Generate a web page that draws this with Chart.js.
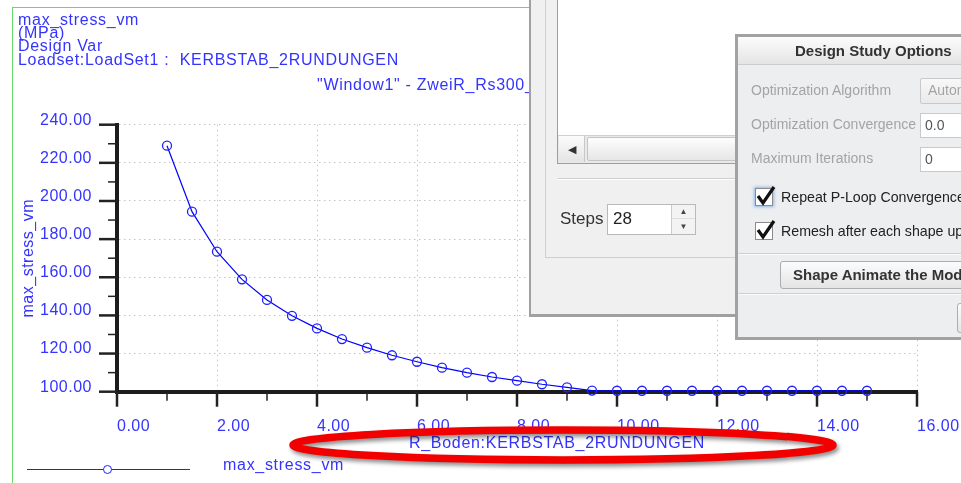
<!DOCTYPE html>
<html>
<head>
<meta charset="utf-8">
<title>max_stress_vm</title>
<script src="https://cdn.jsdelivr.net/npm/chart.js@4.4.1/dist/chart.umd.min.js"></script>
<style>
  body { margin: 0; width: 961px; height: 483px; overflow: hidden; background: #fff; position: relative;
         font-family: "Liberation Sans", Arial, sans-serif; }
  .abs { position: absolute; white-space: nowrap; box-sizing: border-box; }
  .blue { color: #3434ff; font-size: 16px; line-height: 18px; letter-spacing: 0.7px; }
  .frame { left: 12px; top: 7px; width: 540px; height: 500px; border-left: 1.5px solid #6ad86a; border-top: 1.5px solid #6ad86a; }
  .grad { background: linear-gradient(#fcfcfc, #e4e4e4); }
  .lbl { font-size: 14px; line-height: 16px; color: #a4a4a4; }
  .txt { font-size: 14.2px; line-height: 18px; color: #222; }
  .field { background: #fff; border: 1px solid #c9c9c9; }
  .cb { width: 18px; height: 18px; background: #fff; border: 1px solid #8a8a8a; }
</style>
</head>
<body>
<canvas id="stressChart" width="961" height="483" style="position:absolute;left:0;top:0"></canvas>

<div class="abs frame"></div>
<div class="abs blue" style="left:18px;top:11px">max_stress_vm</div>
<div class="abs blue" style="left:18px;top:24px">(MPa)</div>
<div class="abs blue" style="left:18px;top:37px">Design Var</div>
<div class="abs blue" style="left:18px;top:51px">Loadset:LoadSet1 :&nbsp; KERBSTAB_2RUNDUNGEN</div>
<div class="abs blue" style="left:317px;top:76px">"Window1" - ZweiR_Rs300_Optimierung</div>
<div class="abs blue" style="left:409px;top:434px">R_Boden:KERBSTAB_2RUNDUNGEN</div>

<!-- legend -->
<div class="abs" style="left:27px;top:469px;width:163px;height:0;border-top:1px solid #2020ff"></div>
<div class="abs" style="left:103px;top:465px;width:9px;height:9px;border:1.3px solid #2020ff;border-radius:50%;background:#fff"></div>
<div class="abs blue" style="left:223px;top:456px">max_stress_vm</div>

<!-- window behind -->
<div class="abs" style="left:529px;top:-10px;width:480px;height:327px;background:#f0f0f0;border:2px solid #a0a0a0;border-bottom-width:3px"></div>
<div class="abs" style="left:545px;top:-10px;width:470px;height:268px;border:1px solid #cfcfcf"></div>
<div class="abs" style="left:557px;top:-10px;width:460px;height:174px;background:#fff;border:1px solid #9d9d9d"></div>
<div class="abs" style="left:558px;top:135px;width:450px;height:28px;background:#e9e9e9;border-top:1px solid #d0d0d0"></div>
<div class="abs grad" style="left:559px;top:136px;width:26px;height:26px;border-right:1px solid #c8c8c8;font-size:11px;line-height:26px;text-align:center;color:#333">&#9664;</div>
<div class="abs" style="left:587px;top:137px;width:400px;height:24px;border:1px solid #c4c4c4;border-radius:2px;background:linear-gradient(#fdfdfd,#e6e6e6)"></div>
<div class="abs" style="left:558px;top:178px;width:450px;height:2px;border-top:1px solid #cdcdcd;border-bottom:1px solid #fff"></div>
<div class="abs" style="left:560px;top:210px;font-size:17px;line-height:18px;color:#333">Steps</div>
<div class="abs field" style="left:607px;top:204px;width:89px;height:31px;border-color:#b9b9b9"></div>
<div class="abs" style="left:613px;top:210px;font-size:17px;line-height:18px;color:#222">28</div>
<div class="abs" style="left:671px;top:205px;width:24px;height:14px;background:#f3f3f3;border-left:1px solid #ccc;border-bottom:1px solid #ddd;font-size:8px;line-height:14px;text-align:center;color:#444">&#9650;</div>
<div class="abs" style="left:671px;top:219px;width:24px;height:15px;background:#f3f3f3;border-left:1px solid #ccc;font-size:8px;line-height:15px;text-align:center;color:#444">&#9660;</div>

<!-- Design Study Options dialog -->
<div class="abs" style="left:735px;top:34px;width:270px;height:306px;background:#edeef0;border:3px solid #a2a2a2"></div>
<div class="abs grad" style="left:738px;top:37px;width:260px;height:28px;border-bottom:1px solid #cdcdcd"></div>
<div class="abs" style="left:795px;top:42px;font-size:15px;line-height:18px;font-weight:bold;color:#333">Design Study Options</div>
<div class="abs lbl" style="left:751px;top:82px">Optimization Algorithm</div>
<div class="abs lbl" style="left:751px;top:116px">Optimization Convergence</div>
<div class="abs lbl" style="left:751px;top:150px">Maximum Iterations</div>
<div class="abs" style="left:920px;top:78px;width:60px;height:26px;border:1px solid #c9c9c9;border-radius:2px;background:linear-gradient(#f8f8f8,#eaeaea)"></div>
<div class="abs lbl" style="left:928px;top:82px">Automatic</div>
<div class="abs field" style="left:920px;top:113px;width:60px;height:25px"></div>
<div class="abs" style="left:925px;top:117px;font-size:14px;line-height:16px;color:#555">0.0</div>
<div class="abs field" style="left:920px;top:147px;width:60px;height:25px"></div>
<div class="abs" style="left:925px;top:151px;font-size:14px;line-height:16px;color:#555">0</div>
<div class="abs cb" style="left:755px;top:188px;box-shadow:0 0 3px 1px rgba(110,165,230,0.75)"></div>
<svg class="abs" style="left:755px;top:184px" width="24" height="24"><path d="M3 12 L8 19 L19 3" fill="none" stroke="#111" stroke-width="3.2"/></svg>
<div class="abs txt" style="left:781px;top:188px">Repeat P-Loop Convergence</div>
<div class="abs cb" style="left:755px;top:222px"></div>
<svg class="abs" style="left:755px;top:218px" width="24" height="24"><path d="M3 12 L8 19 L19 3" fill="none" stroke="#111" stroke-width="3.2"/></svg>
<div class="abs txt" style="left:781px;top:222px">Remesh after each shape update</div>
<div class="abs" style="left:738px;top:253px;width:260px;height:2px;border-top:1px solid #cfcfcf;border-bottom:1px solid #fafafa"></div>
<div class="abs grad" style="left:780px;top:261px;width:230px;height:28px;border:1px solid #adadad;border-radius:3px"></div>
<div class="abs" style="left:793px;top:266px;font-size:15px;line-height:18px;font-weight:bold;color:#333">Shape Animate the Model</div>
<div class="abs" style="left:738px;top:293px;width:260px;height:2px;border-top:1px solid #cfcfcf;border-bottom:1px solid #fafafa"></div>
<div class="abs grad" style="left:957px;top:303px;width:50px;height:30px;border:1px solid #adadad;border-radius:3px"></div>

<!-- red marker ellipse -->
<svg class="abs" style="left:280px;top:415px;filter:drop-shadow(2px 3px 2px rgba(0,0,0,0.45))" width="580" height="64">
  <ellipse cx="283" cy="30" rx="270" ry="15" fill="none" stroke="#f20000" stroke-width="7.5"/>
</svg>

<script>
// R_Boden design variable steps and resulting von Mises stress (MPa)
const rBoden = [1.0, 1.5, 2.0, 2.5, 3.0, 3.5, 4.0, 4.5, 5.0, 5.5, 6.0, 6.5, 7.0, 7.5, 8.0,
                8.5, 9.0, 9.5, 10.0, 10.5, 11.0, 11.5, 12.0, 12.5, 13.0, 13.5, 14.0, 14.5, 15.0];
const maxStress = [229.0, 194.4, 173.4, 158.9, 148.1, 139.8, 133.2, 127.6, 123.1, 119.1, 115.7,
                   112.6, 110.0, 107.7, 105.8, 103.9, 102.3, 100.6, 100.5, 100.5, 100.5, 100.5,
                   100.5, 100.5, 100.5, 100.5, 100.5, 100.5, 100.5];

const xTicks = [0, 2, 4, 6, 8, 10, 12, 14, 16];
const xMinor = [1, 3, 5, 7, 9, 11, 13, 15];
const yTicks = [100, 120, 140, 160, 180, 200, 220, 240];
const yMinor = [110, 130, 150, 170, 190, 210, 230];

const BLUE_TEXT = '#3434ff';

// the old plot font runs a bit wide
const wideText = {
    id: 'wideText',
    beforeUpdate(chart) { chart.ctx.letterSpacing = '0.5px'; },
    beforeRender(chart) { chart.ctx.letterSpacing = '0.5px'; }
};

// tick marks: long ones at labelled values, short ones in between
const tickMarks = {
    id: 'tickMarks',
    beforeDatasetsDraw(chart) {
        const { ctx, scales: { x, y } } = chart;
        const x0 = x.left, y0 = y.bottom;
        const mark = (x1, y1, x2, y2, w) => {
            ctx.lineWidth = w;
            ctx.beginPath(); ctx.moveTo(x1, y1); ctx.lineTo(x2, y2); ctx.stroke();
        };
        ctx.save();
        ctx.strokeStyle = '#222';
        yTicks.forEach(v => { const p = y.getPixelForValue(v); mark(x0, p, x0 - 18, p, 2.5); });
        yMinor.forEach(v => { const p = y.getPixelForValue(v); mark(x0, p, x0 - 9, p, 1.5); });
        xTicks.forEach(v => { const p = x.getPixelForValue(v); mark(p, y0, p, y0 + 15, 2.5); });
        xMinor.forEach(v => { const p = x.getPixelForValue(v); mark(p, y0, p, y0 + 9, 1.5); });
        ctx.restore();
    }
};

const ctx = document.getElementById('stressChart').getContext('2d');
new Chart(ctx, {
    type: 'line',
    data: {
        datasets: [{
            label: 'max_stress_vm',
            data: rBoden.map((r, i) => ({ x: r, y: maxStress[i] })),
            borderColor: '#0000ff',
            borderWidth: 1.2,
            pointRadius: 4.5,
            pointBorderWidth: 1.3,
            pointBorderColor: '#2020ff',
            pointBackgroundColor: 'rgba(0,0,0,0)',
            tension: 0,
            clip: false
        }]
    },
    options: {
        responsive: false,
        animation: false,
        layout: { padding: { top: 124.7, right: 44, bottom: 0, left: 0 } },
        plugins: { legend: { display: false }, tooltip: { enabled: false } },
        scales: {
            x: {
                type: 'linear', min: 0, max: 16,
                afterFit: s => { s.height = 91.3; },
                afterBuildTicks: s => { s.ticks = xTicks.map(v => ({ value: v })); },
                // invisible tick marks push labels down without widening the right padding
                grid: { color: '#c4c4c4', lineWidth: 1, drawTicks: true, tickLength: 25, tickColor: 'rgba(0,0,0,0)' },
                border: { display: true, color: '#1c1c1c', width: 4, dash: [1.5, 3.5] },
                ticks: {
                    autoSkip: false, maxRotation: 0, align: 'start', padding: 0,
                    color: BLUE_TEXT, font: { family: 'Liberation Sans', size: 16 },
                    callback: v => v.toFixed(2)
                }
            },
            y: {
                type: 'linear', min: 100, max: 240,
                afterFit: s => { s.width = 117; },
                afterBuildTicks: s => { s.ticks = yTicks.map(v => ({ value: v })); },
                grid: { color: '#c4c4c4', lineWidth: 1, drawTicks: false },
                border: { display: true, color: '#1c1c1c', width: 4, dash: [1.5, 3.5] },
                ticks: {
                    padding: 25, color: BLUE_TEXT,
                    font: { family: 'Liberation Sans', size: 16, lineHeight: '9px' },
                    callback: v => [v.toFixed(2), '']
                },
                title: {
                    display: true, text: 'max_stress_vm', color: BLUE_TEXT,
                    font: { family: 'Liberation Sans', size: 16 },
                    padding: { top: 19, bottom: 0 }
                }
            }
        }
    },
    plugins: [wideText, tickMarks]
});
</script>
</body>
</html>
